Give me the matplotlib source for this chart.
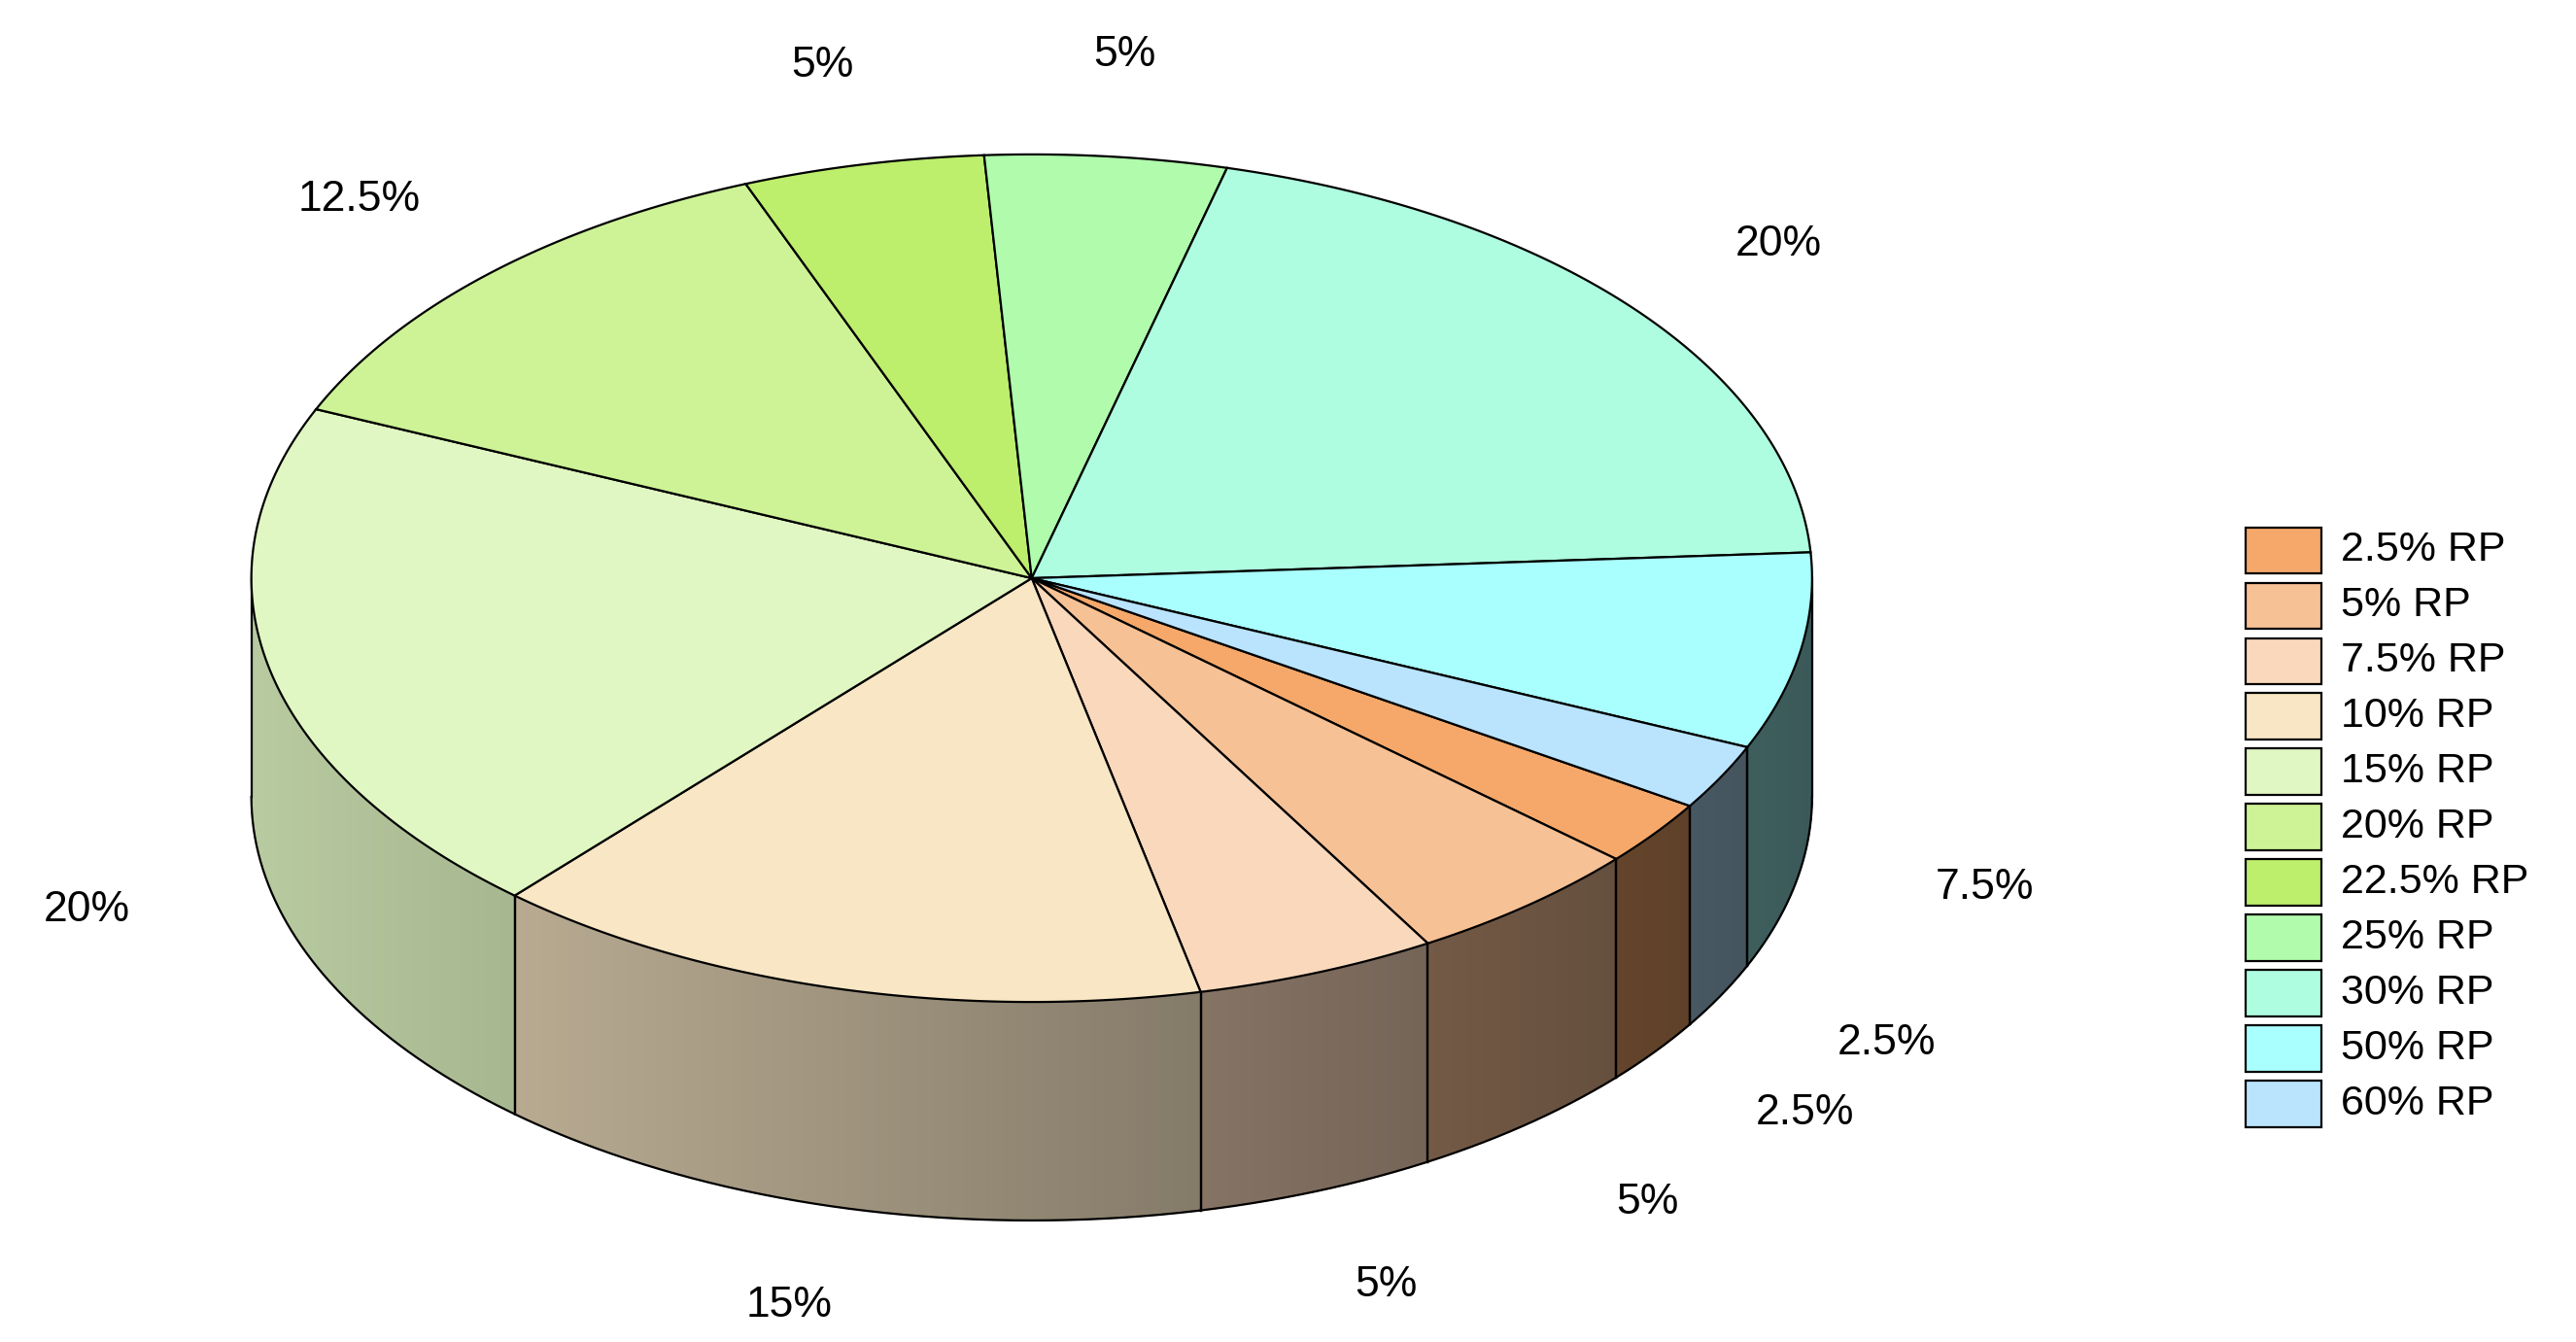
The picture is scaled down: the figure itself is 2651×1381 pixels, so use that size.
import numpy as np
import matplotlib
matplotlib.use("Agg")
import matplotlib.pyplot as plt
from matplotlib.patches import Polygon, Rectangle
from matplotlib.colors import to_rgb

plt.rcParams["font.family"] = ["Liberation Sans", "DejaVu Sans"]

categories = ["2.5% RP", "5% RP", "7.5% RP", "10% RP", "15% RP", "20% RP",
              "22.5% RP", "25% RP", "30% RP", "50% RP", "60% RP"]
shares = [2.5, 5, 5, 15, 20, 12.5, 5, 5, 20, 7.5, 2.5]
colors = ["#f5a86a", "#f7c196", "#fad8bc", "#f8e6c4", "#e1f7c3", "#cdf396",
          "#bdee6c", "#b0fcac", "#aefde0", "#a9fefe", "#bae4fe"]

# geometry in display-pixel units of a 1568x817 canvas
W, H = 1568, 817
cx, cy, rx, ry, depth = 628, 352, 475, 258, 133
start = -32.5

fig = plt.figure(figsize=(26.51, 13.81), dpi=100)
ax = fig.add_axes([0, 0, 1, 1])
ax.set_xlim(0, W); ax.set_ylim(H, 0); ax.axis("off")

def pt(t, dz=0):
    return cx + rx * np.cos(t), cy - ry * np.sin(t) + dz

bounds = start - np.cumsum([0] + shares) * 3.6
for i, (c, share) in enumerate(zip(colors, shares)):
    a1, a2 = np.radians(bounds[i + 1]), np.radians(bounds[i])
    # side wall: front portion only (sin t < 0)
    ts = np.linspace(a1, a2, 200)
    ts_front = ts[np.sin(ts) <= 0.0]
    base = np.array(to_rgb(c))
    for k in range(len(ts_front) - 1):
        t0, t1 = ts_front[k], ts_front[k + 1]
        x0, y0 = pt(t0); x1, y1 = pt(t1)
        f = 0.82 - 0.47 * ((x0 + x1) / 2 - (cx - rx)) / (2 * rx)
        ax.add_patch(Polygon([(x0, y0), (x1, y1), (x1, y1 + depth), (x0, y0 + depth)],
                             closed=True, facecolor=np.clip(base * f, 0, 1),
                             edgecolor=np.clip(base * f, 0, 1), lw=0.8, zorder=1))
    if len(ts_front) > 1:
        xs, ys = pt(ts_front, depth)
        ax.plot(xs, ys, color="black", lw=1.6, zorder=2)
        for t in (ts_front[0], ts_front[-1]):
            if np.isclose(t, a1) or np.isclose(t, a2):
                x, y = pt(t)
                ax.plot([x, x], [y, y + depth], color="black", lw=1.6, zorder=2)
    # top face
    xs, ys = pt(ts)
    poly = [(cx, cy)] + list(zip(xs, ys))
    ax.add_patch(Polygon(poly, closed=True, facecolor=c, edgecolor="black", lw=1.6, zorder=3))
    # label
    mid = (a1 + a2) / 2
    lx = cx + 1.24 * rx * np.cos(mid)
    ly = cy - 1.24 * ry * np.sin(mid) + (depth if np.sin(mid) < 0 else 0)
    ax.text(lx, ly, f"{share:g}%", fontsize=32, ha="center", va="center", zorder=4)

# silhouette edges at extreme left/right
for x in (cx - rx, cx + rx):
    ax.plot([x, x], [cy, cy + depth], color="black", lw=1.6, zorder=2)

# legend
for i, (lab, c) in enumerate(zip(categories, colors)):
    y = 335 + i * 33.7
    ax.add_patch(Rectangle((1367, y - 14), 46, 28, facecolor=c, edgecolor="black", lw=1.6))
    ax.text(1425, y, lab, fontsize=31, va="center", ha="left")

fig.savefig("out.png", dpi=100)
